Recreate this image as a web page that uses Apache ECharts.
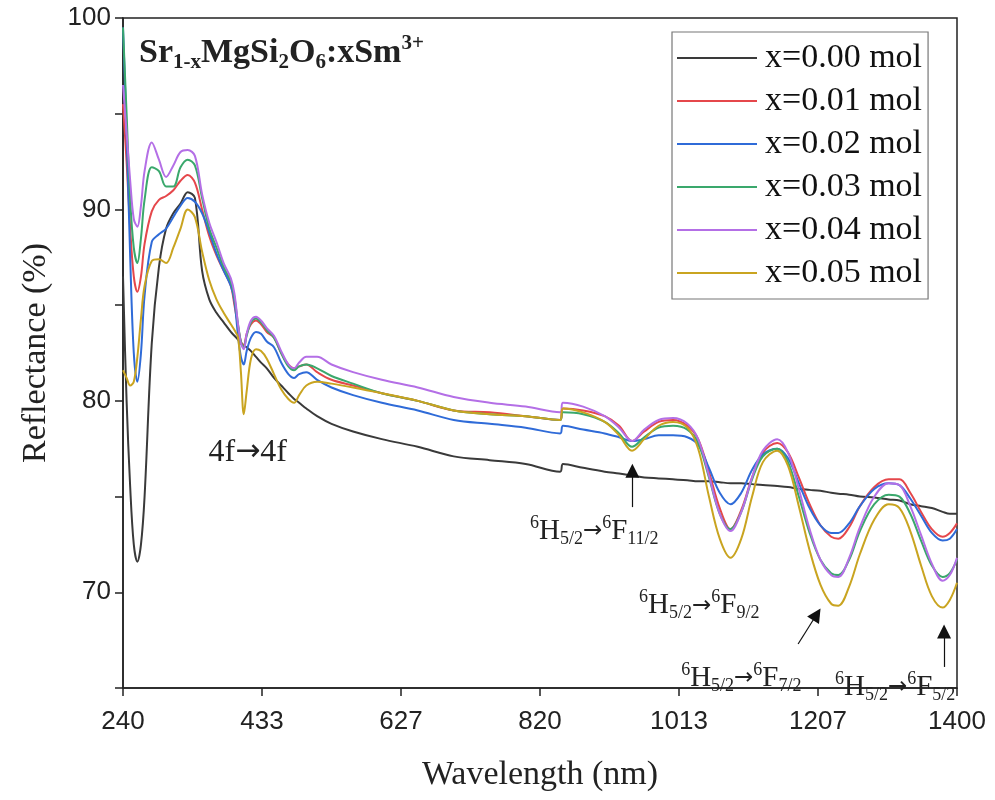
<!DOCTYPE html>
<html>
<head>
<meta charset="utf-8">
<script src="https://cdn.jsdelivr.net/npm/echarts@6/dist/echarts.min.js"></script>
<style>
  html, body { margin: 0; padding: 0; background: #ffffff; }
  #chart { width: 995px; height: 800px; }
</style>
</head>
<body>
<div id="chart"></div>
<script>
// Wavelength grid (nm) shared by every spectrum
const wavelengths = [240, 245, 250, 255, 260, 265, 270, 280, 290, 300, 310, 320, 330, 340, 350, 360, 370, 380, 390, 395,
  400, 404, 408, 412, 418, 425, 432, 440, 450, 460, 470, 478, 485, 495, 510, 530, 560, 600, 650, 700,
  750, 800, 848, 852, 880, 910, 930, 948, 965, 985, 1005, 1025, 1040, 1055, 1070, 1085, 1100, 1115, 1130, 1150,
  1165, 1180, 1195, 1210, 1225, 1235, 1250, 1265, 1285, 1305, 1320, 1335, 1350, 1365, 1380, 1390, 1400];

// Diffuse reflectance (%) for each Sm3+ concentration
const refl000 = [86.5, 80.0, 75.5, 72.5, 71.6, 72.5, 75.0, 83.0, 87.0, 89.0, 89.8, 90.3, 90.9, 90.6, 86.8, 85.3, 84.6, 84.1, 83.6, 83.4,
  83.2, 83.0, 82.9, 82.8, 82.6, 82.3, 82.0, 81.7, 81.2, 80.8, 80.4, 80.1, 79.9, 79.6, 79.2, 78.8, 78.4, 78.0, 77.6, 77.1,
  76.9, 76.7, 76.3, 76.7, 76.5, 76.3, 76.2, 76.1, 76.0, 75.95, 75.9, 75.85, 75.8, 75.8, 75.75, 75.7, 75.7, 75.65, 75.6, 75.55,
  75.5, 75.4, 75.35, 75.3, 75.2, 75.15, 75.1, 75.0, 74.95, 74.85, 74.8, 74.6, 74.5, 74.4, 74.2, 74.1, 74.1];
const refl001 = [95.5, 92.5, 89.0, 86.5, 85.7, 86.5, 88.2, 89.9, 90.5, 90.7, 91.0, 91.5, 91.8, 91.4, 90.0, 88.6, 87.6, 86.8, 86.0, 85.0,
  83.9, 83.1, 82.9, 83.5, 84.0, 84.2, 84.0, 83.6, 83.3, 82.5, 81.9, 81.7, 81.8, 81.9, 81.5, 81.1, 80.8, 80.4, 80.0, 79.5,
  79.4, 79.2, 79.0, 79.6, 79.5, 79.2, 78.7, 77.9, 78.4, 78.9, 79.0, 78.7, 78.0, 76.3, 74.4, 73.3, 74.3, 76.0, 77.3, 77.8,
  77.3, 76.0, 74.6, 73.5, 72.9, 72.8, 73.4, 74.5, 75.5, 75.9, 75.9, 75.2, 74.2, 73.3, 72.9, 73.1, 73.6];
const refl002 = [99.5, 94.0, 87.5, 82.5, 81.0, 82.5, 85.5, 88.3, 88.7, 89.0, 89.6, 90.2, 90.6, 90.4, 89.8, 88.8, 87.7, 86.8, 86.0, 85.2,
  83.4, 82.3, 81.9, 82.6, 83.3, 83.6, 83.5, 83.1, 82.8, 82.0, 81.4, 81.2, 81.4, 81.5, 81.1, 80.7, 80.3, 79.9, 79.5, 79.0,
  78.8, 78.6, 78.3, 78.7, 78.5, 78.3, 78.1, 77.9, 78.0, 78.2, 78.2, 78.1, 77.7, 76.5, 75.2, 74.6, 75.2, 76.4, 77.2, 77.5,
  77.0, 75.7, 74.4, 73.5, 73.1, 73.1, 73.6, 74.5, 75.4, 75.7, 75.6, 74.9, 74.0, 73.1, 72.7, 72.8, 73.3];
const refl003 = [99.5, 95.0, 90.5, 88.0, 87.2, 88.5, 90.5, 92.2, 92.0, 91.2, 91.2, 92.2, 92.6, 92.3, 90.6, 89.0, 88.0, 87.0, 86.2, 85.4,
  84.0, 83.1, 82.8, 83.4, 84.1, 84.3, 84.1, 83.7, 83.3, 82.5, 81.8, 81.6, 81.8, 81.9, 81.7, 81.3, 80.9, 80.4, 80.0, 79.5,
  79.3, 79.2, 79.0, 79.4, 79.3, 78.9, 78.3, 77.6, 78.1, 78.6, 78.7, 78.5, 77.8, 76.0, 74.1, 73.3, 74.2, 75.9, 77.1, 77.5,
  76.8, 75.0, 73.1, 71.7, 71.0, 70.9, 71.7, 73.2, 74.6, 75.1, 75.0, 74.1, 72.7, 71.4, 70.8, 71.0, 71.7];
const refl004 = [96.5, 94.0, 91.5, 89.5, 89.1, 90.2, 92.0, 93.5, 92.6, 91.7, 92.3, 93.0, 93.1, 92.8, 90.8, 89.3, 88.3, 87.2, 86.4, 85.6,
  84.0, 83.0, 82.7, 83.5, 84.2, 84.4, 84.2, 83.8, 83.4, 82.6, 81.9, 81.7, 82.0, 82.3, 82.3, 81.9, 81.5, 81.1, 80.7, 80.2,
  79.9, 79.7, 79.4, 79.9, 79.7, 79.2, 78.6, 77.9, 78.5, 79.0, 79.1, 78.8, 78.0, 76.1, 74.1, 73.2, 74.2, 76.0, 77.4, 78.0,
  77.3, 75.4, 73.3, 71.7, 70.9, 70.8, 71.8, 73.4, 75.0, 75.7, 75.6, 74.5, 73.0, 71.5, 70.6, 70.9, 71.8];
const refl005 = [81.6, 81.2, 80.8, 81.0, 82.3, 84.3, 86.0, 87.3, 87.4, 87.2, 88.0, 89.0, 90.0, 89.6, 87.8, 86.3, 85.3, 84.6, 84.0, 83.7,
  83.3, 81.5, 79.3, 80.5, 82.2, 82.7, 82.6, 82.2, 81.4, 80.6, 80.1, 79.9, 80.3, 80.8, 81.0, 80.9, 80.7, 80.4, 80.0, 79.5,
  79.3, 79.2, 79.0, 79.6, 79.4, 78.9, 78.2, 77.4, 78.0, 78.7, 78.9, 78.6, 77.5, 75.0, 72.8, 71.8, 72.8, 75.0, 76.8, 77.4,
  76.6, 74.5, 72.2, 70.4, 69.4, 69.3, 70.3, 72.0, 73.8, 74.6, 74.4, 73.2, 71.4, 69.8, 69.2, 69.6, 70.5];

const seriesNames = ['x=0.00 mol', 'x=0.01 mol', 'x=0.02 mol', 'x=0.03 mol', 'x=0.04 mol', 'x=0.05 mol'];
const seriesValues = [refl000, refl001, refl002, refl003, refl004, refl005];
const seriesColors = ['#3a3a3a', '#e5474b', '#2f6bd8', '#3aa86c', '#b46fe6', '#c9a420'];

// Tick positions along the wavelength axis (labels are rounded)
const xTicks = [240, 433.3333, 626.6667, 820, 1013.3333, 1206.6667, 1400];

// Transition arrows in data units: [x1, y1, x2, y2] (tail -> head)
const arrows = [
  [948.5, 74.45, 948.5, 76.35],
  [1179, 67.3, 1205, 68.85],
  [1382, 66.1, 1382, 67.95]
];

const SERIF = '"Liberation Serif", "Times New Roman", serif';
const SANS = '"Liberation Sans", Arial, sans-serif';
const ARROW_FONT = '"DejaVu Sans", sans-serif';

const chart = echarts.init(document.getElementById('chart'), null, { renderer: 'canvas' });

const lineSeries = seriesNames.map((name, i) => ({
  name: name,
  type: 'line',
  data: wavelengths.map((w, k) => [w, seriesValues[i][k]]),
  showSymbol: false,
  smooth: 0.35,
  lineStyle: { color: seriesColors[i], width: 2 },
  itemStyle: { color: seriesColors[i] },
  z: 2 + i,
  animation: false
}));

lineSeries.push({
  name: 'arrows',
  type: 'line',
  data: [],
  silent: true,
  animation: false,
  markLine: {
    silent: true,
    animation: false,
    symbol: ['none', 'triangle'],
    symbolSize: 14,
    label: { show: false },
    lineStyle: { color: '#111', width: 1.2, type: 'solid' },
    itemStyle: { color: '#111' },
    data: arrows.map(a => [{ coord: [a[0], a[1]] }, { coord: [a[2], a[3]] }])
  }
});

chart.setOption({
  backgroundColor: '#ffffff',
  animation: false,
  grid: {
    left: 123, right: 38, top: 18, bottom: 112,
    show: true, borderColor: '#222', borderWidth: 1.5, backgroundColor: 'transparent'
  },
  legend: {
    data: seriesNames,
    orient: 'vertical',
    left: 672, top: 32,
    padding: [9, 6, 9, 5],
    itemGap: 9,
    itemWidth: 80,
    itemHeight: 2,
    icon: 'rect',
    borderColor: '#777',
    borderWidth: 1.2,
    backgroundColor: '#fff',
    textStyle: { fontFamily: SERIF, fontSize: 34, color: '#111', lineHeight: 34, padding: [0, 0, 0, 3] }
  },
  xAxis: {
    type: 'value',
    min: 240, max: 1400,
    name: 'Wavelength (nm)',
    nameLocation: 'middle',
    nameGap: 70,
    nameTextStyle: { fontFamily: SERIF, fontSize: 34, color: '#222' },
    axisLine: { show: true, onZero: false, lineStyle: { color: '#222', width: 1.5 } },
    axisTick: { show: true, inside: false, length: 8, lineStyle: { color: '#222', width: 1.5 }, customValues: xTicks },
    axisLabel: {
      fontFamily: SANS, fontSize: 26, color: '#222', margin: 21,
      customValues: xTicks,
      formatter: v => String(Math.round(v))
    },
    splitLine: { show: false }
  },
  yAxis: {
    type: 'value',
    min: 65, max: 100, interval: 5,
    name: 'Reflectance (%)',
    nameLocation: 'middle',
    nameGap: 70,
    nameTextStyle: { fontFamily: SERIF, fontSize: 34, color: '#222' },
    axisLine: { show: true, lineStyle: { color: '#222', width: 1.5 } },
    axisTick: { show: true, inside: false, length: 8, lineStyle: { color: '#222', width: 1.5 } },
    axisLabel: {
      fontFamily: SANS, fontSize: 26, color: '#222', margin: 12,
      formatter: v => (v % 10 === 0 ? String(v) : '')
    },
    splitLine: { show: false }
  },
  series: lineSeries
});

// Text annotations positioned in data coordinates
const subStyle = { fontFamily: SERIF, fontSize: 18, fill: '#222', lineHeight: 18, verticalAlign: 'bottom' };
const supStyle = { fontFamily: SERIF, fontSize: 18, fill: '#222', lineHeight: 18, verticalAlign: 'top' };
const baseStyle = { fontFamily: SERIF, fontSize: 29, fill: '#222', lineHeight: 34 };

function transition(lower) {
  return '{p|6}{n|H}{s|5/2}{a|\u2192}{p|6}{n|F}{s|' + lower + '}';
}

const annotations = [
  { at: [413.5, 77.3], text: '{n|4f}{a|\u2192}{n|4f}', size: 32, arrowSize: 30 },
  { at: [895.5, 73.2], text: transition('11/2'), arrowSize: 23 },
  { at: [1041.5, 69.3], text: transition('9/2'), arrowSize: 23 },
  { at: [1100, 65.5], text: transition('7/2'), arrowSize: 23 },
  { at: [1314, 65.05], text: transition('5/2'), arrowSize: 23 }
];

const graphics = annotations.map(a => {
  const p = chart.convertToPixel({ gridIndex: 0 }, a.at);
  return {
    type: 'text',
    x: p[0], y: p[1],
    silent: true,
    z: 50,
    style: {
      text: a.text,
      align: 'center',
      verticalAlign: 'middle',
      rich: {
        n: Object.assign({}, baseStyle, a.size ? { fontSize: a.size } : {}),
        a: { fontFamily: ARROW_FONT, fontSize: a.arrowSize, fill: '#222', lineHeight: 34 },
        s: subStyle,
        p: supStyle
      }
    }
  };
});

// Compound formula in the upper-left corner
graphics.push({
  type: 'text',
  left: 139, top: 33,
  silent: true,
  z: 50,
  style: {
    text: '{b|Sr}{s|1-x}{b|MgSi}{s|2}{b|O}{s|6}{b|:xSm}{p|3+}',
    rich: {
      b: { fontFamily: SERIF, fontWeight: 'bold', fontSize: 34, fill: '#222', lineHeight: 40 },
      s: { fontFamily: SERIF, fontWeight: 'bold', fontSize: 21, fill: '#222', lineHeight: 21, verticalAlign: 'bottom' },
      p: { fontFamily: SERIF, fontWeight: 'bold', fontSize: 21, fill: '#222', lineHeight: 21, verticalAlign: 'top' }
    }
  }
});

chart.setOption({ graphic: graphics });
</script>
</body>
</html>
